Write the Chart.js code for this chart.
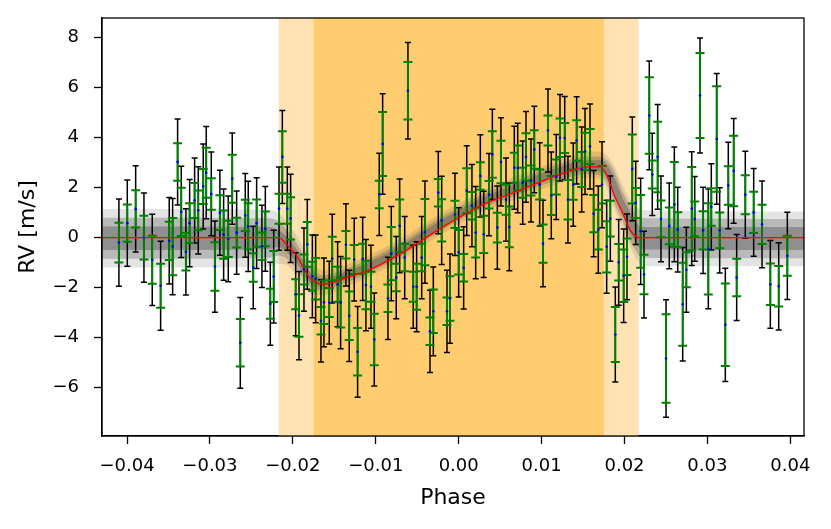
<!DOCTYPE html>
<html><head><meta charset="utf-8">
<script src="https://cdn.jsdelivr.net/npm/chart.js@4.4.1/dist/chart.umd.min.js"></script>
<style>html,body{margin:0;padding:0;background:#fff;}#wrap{width:831px;height:529px;}</style>
</head><body><div id="wrap"><canvas id="c" width="831" height="529"></canvas></div>
<script>
// ---- data ----
const phase = [-0.04098,-0.03997,-0.03896,-0.03796,-0.03696,-0.03595,-0.03491,-0.03450,-0.03390,-0.03346,-0.03290,-0.03245,-0.03185,-0.03141,-0.03081,-0.03045,-0.02984,-0.02940,-0.02880,-0.02835,-0.02779,-0.02731,-0.02678,-0.02634,-0.02574,-0.02538,-0.02478,-0.02437,-0.02373,-0.02332,-0.02272,-0.02231,-0.02167,-0.02127,-0.02067,-0.02027,-0.01966,-0.01926,-0.01866,-0.01826,
-0.01765,-0.01725,-0.01661,-0.01625,-0.01561,-0.01525,-0.01460,-0.01424,-0.01360,-0.01320,-0.01260,-0.01219,-0.01158,-0.01119,-0.01058,-0.01018,-0.00958,-0.00917,-0.00853,-0.00813,-0.00753,-0.00712,-0.00651,-0.00612,-0.00548,-0.00507,-0.00446,-0.00407,-0.00346,-0.00306,-0.00246,-0.00205,-0.00141,-0.00105,-0.00045,0.00000,0.00060,0.00097,0.00160,0.00205,0.00261,0.00302,0.00366,0.00406,0.00466,
0.00510,0.00571,0.00611,0.00671,0.00712,0.00772,0.00812,0.00872,0.00912,0.00977,0.01017,0.01077,0.01117,0.01177,0.01222,0.01279,0.01318,0.01382,0.01423,0.01484,0.01524,0.01584,0.01628,0.01684,0.01729,0.01785,0.01829,0.01889,0.01930,0.01990,0.02030,0.02094,0.02135,0.02195,0.02235,
0.02299,0.02335,0.02400,0.02440,0.02501,0.02540,0.02601,0.02642,0.02702,0.02746,0.02811,0.02847,0.02911,0.02948,0.03011,0.03047,0.03112,0.03148,0.03216,0.03252,0.03317,0.03353,0.03457,0.03558,0.03659,0.03759,0.03860,0.03964];

const rv = [-0.20,0.58,1.15,0.00,-0.89,-1.93,-0.13,-0.36,3.03,1.03,-0.57,0.58,1.49,1.09,2.05,2.60,1.75,-1.16,1.00,0.12,-0.05,2.36,0.20,-4.21,0.89,0.45,-1.20,0.58,-0.35,0.35,-2.65,-1.56,1.16,3.23,1.16,0.77,-2.27,-3.12,-1.28,-0.27,
-1.55,-1.65,-3.33,-2.59,-2.60,-0.84,-1.87,-2.60,-0.29,-3.13,-0.88,-4.57,-0.85,-1.90,-1.97,-4.08,1.73,3.75,-2.43,-0.64,-1.60,0.47,-0.80,5.88,-1.97,-1.97,-0.80,0.22,-3.75,-2.95,1.80,0.69,-2.95,-2.44,0.93,-0.59,-1.21,1.88,1.28,0.20,2.47,0.13,1.72,3.33,0.40,
3.03,1.52,0.43,2.80,2.79,2.20,3.23,2.29,3.53,2.13,-0.24,4.29,1.69,2.43,4.00,3.99,1.52,2.12,3.89,2.73,3.45,3.65,0.96,0.32,2.12,-0.37,0.76,-3.88,-0.99,-1.53,-0.77,2.75,1.39,0.25,-1.48,
4.89,2.53,3.23,0.75,-4.84,0.47,1.33,0.32,-2.67,-1.29,1.16,0.75,5.69,0.29,-0.45,1.23,3.95,0.29,-3.49,2.09,2.67,-1.60,1.72,1.01,0.53,-1.87,-1.95,-0.73];

// instrumental (green) error bars
const rvErr = [0.80,0.75,0.75,0.88,0.96,0.88,0.77,1.15,0.75,0.97,0.75,0.80,0.70,0.80,0.70,1.00,0.63,0.97,0.70,0.97,0.73,0.96,0.60,0.95,0.63,0.93,0.57,0.95,0.55,0.70,0.60,1.02,0.60,1.03,0.60,0.85,0.60,0.85,0.60,0.90,
0.58,0.83,0.55,0.87,0.58,0.87,0.70,1.00,0.55,0.97,0.58,0.95,0.60,0.97,0.60,1.03,0.55,1.28,0.55,1.07,0.55,1.06,0.55,1.15,0.60,0.92,0.55,1.33,0.55,0.87,0.55,0.85,0.55,0.89,0.55,0.89,0.55,0.90,0.55,1.00,0.55,0.75,0.55,0.93,0.60,
0.85,0.60,0.82,0.60,0.90,0.60,0.95,0.60,0.77,0.60,0.77,0.60,0.78,0.70,0.77,0.60,0.79,0.60,0.81,0.70,0.75,0.70,0.75,0.80,0.75,1.03,0.72,1.10,0.73,1.05,0.73,1.38,0.60,1.46,0.79,
1.53,0.56,1.41,0.74,1.77,0.74,1.70,0.70,1.66,0.70,1.67,0.70,1.70,0.77,1.83,0.75,2.11,0.72,1.65,0.77,1.41,0.75,0.78,0.83,0.79,0.83,0.81,0.80];
// jitter term added in quadrature for the black (total) error bars
const jitter = 1.55;

// best-fit model and posterior spread (three density levels)
const modelPhase = [-0.0430,-0.0230,-0.0217,-0.0207,-0.0197,-0.0188,-0.0180,-0.0172,-0.0165,-0.0155,-0.0140,-0.0110,-0.0070,-0.0030,0.0000,0.0030,0.0065,0.0100,0.0130,0.0155,0.0170,0.0177,0.0187,0.0199,0.0207,0.0215,0.0217,0.0230,0.0417];
const modelRV  = [0,0,0,-0.30,-0.65,-1.15,-1.60,-1.80,-1.85,-1.83,-1.65,-1.32,-0.64,0.20,0.80,1.33,1.78,2.25,2.62,2.83,2.83,2.62,1.76,0.89,0.29,0.02,0,0,0];
const bandOuterHi = [1.15,1.12,1.00,0.60,0.15,-0.35,-0.90,-1.20,-1.30,-1.30,-1.15,-0.75,-0.05,0.80,1.38,1.90,2.40,2.85,3.20,3.45,3.45,3.35,2.90,2.00,1.50,1.20,1.15,1.10,1.05];
const bandOuterLo = [-1.20,-1.17,-1.05,-1.10,-1.45,-1.85,-2.20,-2.30,-2.30,-2.25,-2.05,-1.60,-0.90,-0.05,0.55,1.05,1.50,1.95,2.25,2.40,2.35,2.10,1.20,0.30,-0.40,-0.90,-1.00,-1.15,-1.15];
const bandMidHi   = [0.80,0.78,0.65,0.30,-0.15,-0.65,-1.15,-1.40,-1.50,-1.48,-1.30,-0.90,-0.20,0.65,1.22,1.75,2.22,2.70,3.05,3.25,3.25,3.15,2.70,1.75,1.25,0.90,0.82,0.78,0.75];
const bandMidLo   = [-0.85,-0.82,-0.72,-0.85,-1.20,-1.60,-1.95,-2.10,-2.10,-2.05,-1.85,-1.45,-0.75,0.10,0.70,1.20,1.65,2.10,2.40,2.55,2.50,2.30,1.45,0.55,-0.15,-0.60,-0.70,-0.82,-0.83];
const bandCoreHi  = [0.45,0.42,0.30,0.00,-0.40,-0.90,-1.35,-1.55,-1.62,-1.60,-1.42,-1.02,-0.32,0.52,1.10,1.62,2.10,2.57,2.92,3.10,3.10,3.00,2.45,1.50,1.00,0.60,0.48,0.43,0.42];
const bandCoreLo  = [-0.50,-0.47,-0.38,-0.60,-0.95,-1.40,-1.80,-1.95,-1.95,-1.92,-1.72,-1.32,-0.62,0.22,0.82,1.32,1.78,2.23,2.55,2.70,2.65,2.50,1.75,0.85,0.15,-0.25,-0.38,-0.48,-0.50];

// transit contact phases (ingress / egress shading)
const ingress = [-0.0217, -0.0175];
const egress  = [0.0175, 0.0217];

const xTicks = [-0.04,-0.03,-0.02,-0.01,0.00,0.01,0.02,0.03,0.04];
const xTickLabels = ['\u22120.04','\u22120.03','\u22120.02','\u22120.01','0.00','0.01','0.02','0.03','0.04'];
const yTicks = [-6,-4,-2,0,2,4,6,8];
const yTickLabels = ['\u22126','\u22124','\u22122','0','2','4','6','8'];

// ---- chart ----
const zip = (xs, ys) => xs.map((x, i) => ({x: x, y: ys[i]}));
const FONT = 'DejaVu Sans';

const shadePlugin = {
  id: 'shade',
  beforeDatasetsDraw(chart) {
    const {ctx, chartArea: a, scales: {x}} = chart;
    ctx.save();
    ctx.beginPath(); ctx.rect(a.left, a.top, a.right - a.left, a.bottom - a.top); ctx.clip();
    const band = (x0, x1, col) => {
      const p0 = x.getPixelForValue(x0), p1 = x.getPixelForValue(x1);
      ctx.fillStyle = col; ctx.fillRect(p0, a.top, p1 - p0, a.bottom - a.top);
    };
    band(ingress[0], egress[1], 'rgb(255,226,178)');
    band(ingress[1], egress[0], 'rgb(255,204,112)');
    ctx.restore();
  }
};

const errPlugin = {
  id: 'errbars',
  beforeDatasetDraw(chart, args) {
    if (args.index !== 1) return;
    const {ctx, chartArea: a, scales: {x, y}} = chart;
    ctx.save();
    ctx.beginPath(); ctx.rect(a.left, a.top, a.right - a.left, a.bottom - a.top); ctx.clip();
    const draw = (errFn, col, lw, capHalf) => {
      ctx.strokeStyle = col; ctx.lineWidth = lw;
      for (let i = 0; i < phase.length; i++) {
        const e = errFn(i);
        const px = x.getPixelForValue(phase[i]);
        const yt = y.getPixelForValue(rv[i] + e), yb = y.getPixelForValue(rv[i] - e);
        ctx.beginPath();
        ctx.moveTo(px, yt); ctx.lineTo(px, yb);
        ctx.moveTo(px - capHalf, yt); ctx.lineTo(px + capHalf, yt);
        ctx.moveTo(px - capHalf, yb); ctx.lineTo(px + capHalf, yb);
        ctx.stroke();
      }
    };
    draw(i => Math.sqrt(rvErr[i] * rvErr[i] + jitter * jitter), '#000000', 1.5, 3);
    draw(i => rvErr[i], '#008000', 2, 4.5);
    ctx.restore();
  }
};

const framePlugin = {
  id: 'frame',
  afterDraw(chart) {
    const {ctx, chartArea: a} = chart;
    ctx.save(); ctx.strokeStyle = '#000'; ctx.lineWidth = 1.3;
    ctx.strokeRect(a.left, a.top, a.right - a.left, a.bottom - a.top);
    ctx.restore();
  }
};

const bandStyle = {type: 'line', pointRadius: 0, borderWidth: 0, borderColor: 'transparent', cubicInterpolationMode: 'monotone'};
const GREY = 'rgba(90,90,90,';

new Chart(document.getElementById('c'), {
  type: 'line',
  data: {
    datasets: [
      {type: 'scatter', label: 'data', data: zip(phase, rv), pointRadius: 1.3, pointBackgroundColor: '#0000ff', pointBorderWidth: 0, pointBorderColor: '#0000ff', order: 0},
      {type: 'line', label: 'model', data: zip(modelPhase, modelRV), borderColor: '#ff0000', borderWidth: 1.3, pointRadius: 0, cubicInterpolationMode: 'monotone', fill: false, order: 1},
      Object.assign({label: 'core hi', data: zip(modelPhase, bandCoreHi), fill: '+1', backgroundColor: GREY + '0.45)', order: 2}, bandStyle),
      Object.assign({label: 'core lo', data: zip(modelPhase, bandCoreLo), fill: false, order: 3}, bandStyle),
      Object.assign({label: 'mid hi', data: zip(modelPhase, bandMidHi), fill: '+1', backgroundColor: GREY + '0.30)', order: 4}, bandStyle),
      Object.assign({label: 'mid lo', data: zip(modelPhase, bandMidLo), fill: false, order: 5}, bandStyle),
      Object.assign({label: 'outer hi', data: zip(modelPhase, bandOuterHi), fill: '+1', backgroundColor: GREY + '0.17)', order: 6}, bandStyle),
      Object.assign({label: 'outer lo', data: zip(modelPhase, bandOuterLo), fill: false, order: 7}, bandStyle)
    ]
  },
  options: {
    responsive: false,
    animation: false,
    devicePixelRatio: 1,
    layout: {padding: {left: 0, right: 27, top: 18, bottom: 0}},
    plugins: {legend: {display: false}, tooltip: {enabled: false}},
    scales: {
      x: {
        type: 'linear', min: -0.04302, max: 0.04165,
        afterBuildTicks: s => { s.ticks = xTicks.map(v => ({value: v})); },
        afterFit: s => { s.height = 93; s.paddingLeft = 0; s.paddingRight = 0; },
        ticks: {callback: (v, i) => xTickLabels[i], font: {family: FONT, size: 18}, color: '#000', padding: 12, maxRotation: 0, autoSkip: false},
        grid: {drawOnChartArea: false, drawTicks: true, tickLength: 8, tickColor: '#000', tickWidth: 1.3},
        border: {display: true, color: '#000', width: 1.3},
        title: {display: true, text: 'Phase', font: {family: FONT, size: 22}, color: '#000', padding: 18}
      },
      y: {
        type: 'linear', min: -7.94, max: 8.79,
        afterBuildTicks: s => { s.ticks = yTicks.map(v => ({value: v})); },
        afterFit: s => { s.width = 102; s.paddingTop = 0; s.paddingBottom = 0; },
        ticks: {callback: (v, i) => yTickLabels[i], font: {family: FONT, size: 18}, color: '#000', padding: 15, autoSkip: false},
        grid: {drawOnChartArea: false, drawTicks: true, tickLength: 8, tickColor: '#000', tickWidth: 1.3},
        border: {display: true, color: '#000', width: 1.3},
        title: {display: true, text: 'RV [m/s]', font: {family: FONT, size: 22}, color: '#000', padding: 15}
      }
    }
  },
  plugins: [shadePlugin, errPlugin, framePlugin]
});
</script></body></html>
